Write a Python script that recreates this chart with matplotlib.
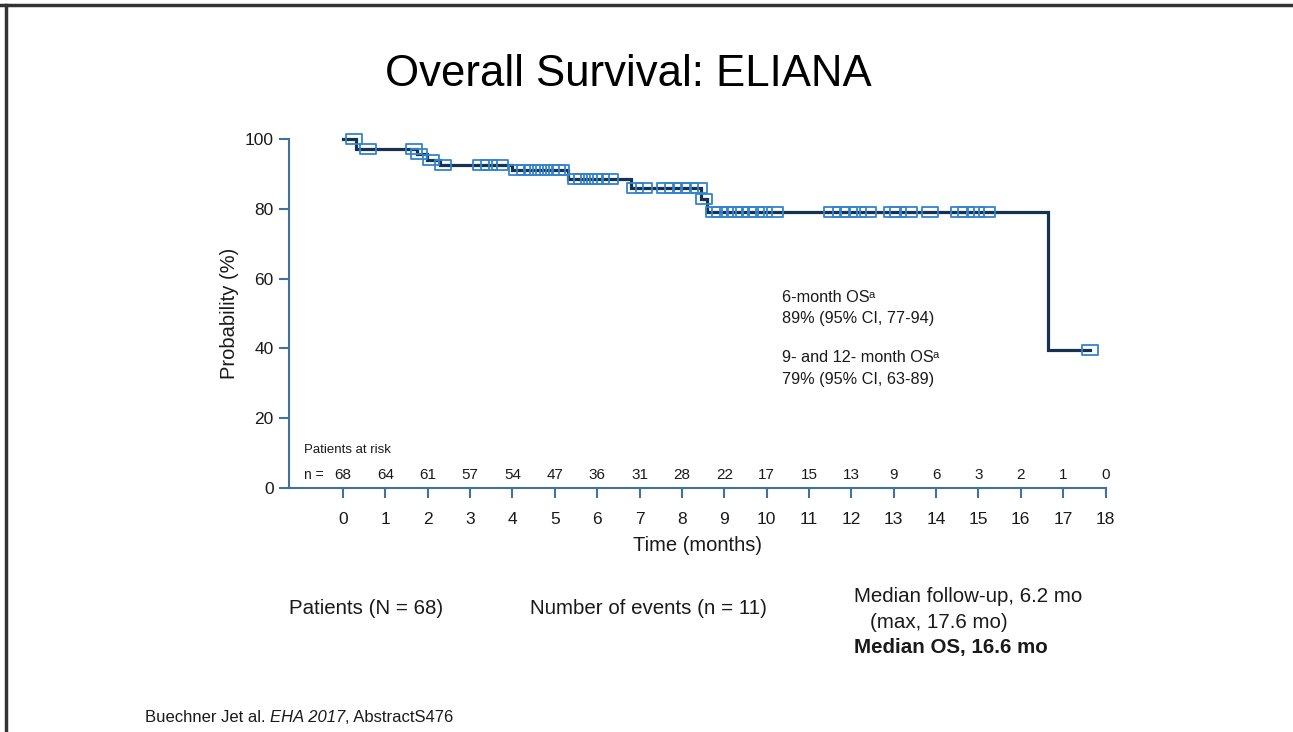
import numpy as np
import matplotlib
matplotlib.use("Agg")
import matplotlib.pyplot as plt
from matplotlib.path import Path
from matplotlib.lines import Line2D

plt.rcParams['font.family'] = ['Liberation Sans', 'DejaVu Sans']

# ---- data ----
event_times = [0.0, 0.3, 1.75, 1.98, 2.29, 4.0, 5.3, 6.8, 8.45, 8.6, 16.65]
survival_pct = [100.0, 97.1, 95.6, 94.1, 92.6, 91.0, 88.5, 86.0, 82.9, 79.2, 39.6]
max_followup = 17.63
censor_times = [0.26, 0.6, 1.68, 1.8, 2.08, 2.36, 3.25, 3.45, 3.7,
                4.1, 4.3, 4.45, 4.6, 4.75, 4.9, 5.05, 5.15,
                5.5, 5.65, 5.8, 5.95, 6.1, 6.3, 6.9, 7.1,
                7.6, 7.8, 8.0, 8.2, 8.4, 8.52,
                8.75, 8.9, 9.1, 9.25, 9.4, 9.6, 9.75, 9.95, 10.2,
                11.55, 11.75, 11.95, 12.15, 12.4, 12.95, 13.1, 13.35,
                13.85, 14.55, 14.7, 14.95, 15.2, 17.63]
risk_months = list(range(0, 19))
at_risk = [68, 64, 61, 57, 54, 47, 36, 31, 28, 22, 17, 15, 13, 9, 6, 3, 2, 1, 0]
y_ticks = [0, 20, 40, 60, 80, 100]

# ---- figure ----
fig = plt.figure(figsize=(12.93, 7.32), dpi=100)
W, H = 1293, 732
ax = fig.add_axes([289 / W, (H - 488) / H, (1105.5 - 289) / W, (488 - 139) / H])

spine_col = '#41729c'
curve_col = '#16324f'
box_col = '#3383cf'
txt_col = '#1a1a1a'

# KM step curve
st = np.array(event_times + [max_followup])
sv = np.array(survival_pct + [survival_pct[-1]])
ax.step(st, sv, where='post', color=curve_col, lw=2.3, solid_joinstyle='miter',
        zorder=3, clip_on=False)

# censor marks (open rectangles)
ct = np.array(censor_times)
idx = np.searchsorted(np.array(event_times), ct, side='right') - 1
cy = np.array(survival_pct)[idx]
rect = Path([(-1, -0.6), (1, -0.6), (1, 0.6), (-1, 0.6), (-1, -0.6)],
            [Path.MOVETO, Path.LINETO, Path.LINETO, Path.LINETO, Path.CLOSEPOLY])
ax.plot(ct, cy, ls='none', marker=rect, markersize=12, markerfacecolor='none',
        markeredgecolor=box_col, markeredgewidth=1.3, zorder=4, clip_on=False)

ax.set_xlim(-1.275, 18)
ax.set_ylim(0, 100)
for s in ['top', 'right']:
    ax.spines[s].set_visible(False)
for s in ['left', 'bottom']:
    ax.spines[s].set_color(spine_col)
    ax.spines[s].set_linewidth(1.5)

ax.set_xticks(risk_months)
ax.set_yticks(y_ticks)
ax.tick_params(axis='x', direction='out', length=7, width=1.5, color=spine_col,
               labelsize=12.5, labelcolor=txt_col, pad=10)
ax.tick_params(axis='y', direction='out', length=7, width=1.5, color=spine_col,
               labelsize=12.5, labelcolor=txt_col, pad=4)
ax.set_xlabel('Time (months)', fontsize=14.5, color=txt_col, labelpad=7)
ax.set_ylabel('Probability (%)', fontsize=14.5, color=txt_col, labelpad=4)

# patients at risk
ax.text(-0.93, 10.8, 'Patients at risk', fontsize=9.5, color=txt_col,
        ha='left', va='center')
ax.text(-0.93, 3.6, 'n =', fontsize=10, color=txt_col, ha='left', va='center')
for m, n in zip(risk_months, at_risk):
    ax.text(m, 3.6, str(n), fontsize=11, color=txt_col, ha='center', va='center')

# annotations
ann_x = 10.37
ax.text(ann_x, 54.7, '6-month OS', fontsize=11.7, color=txt_col, ha='left', va='center')
ax.text(ann_x, 37.5, '9- and 12- month OS', fontsize=11.7, color=txt_col,
        ha='left', va='center')
ax.text(ann_x, 48.6, '89% (95% CI, 77-94)', fontsize=11.7, color=txt_col,
        ha='left', va='center')
ax.text(ann_x, 31.0, '79% (95% CI, 63-89)', fontsize=11.7, color=txt_col,
        ha='left', va='center')

# title
fig.text(628 / W, 1 - 75 / H, 'Overall Survival: ELIANA', fontsize=31.5,
         color='black', ha='center', va='center')

# bottom texts
fs_b = 14.8
fig.text(289 / W, 1 - 608 / H, 'Patients (N = 68)', fontsize=fs_b, color=txt_col,
         ha='left', va='center')
fig.text(530 / W, 1 - 608 / H, 'Number of events (n = 11)', fontsize=fs_b,
         color=txt_col, ha='left', va='center')
fig.text(854 / W, 1 - 597 / H, 'Median follow-up, 6.2 mo', fontsize=fs_b,
         color=txt_col, ha='left', va='center')
fig.text(870 / W, 1 - 622 / H, '(max, 17.6 mo)', fontsize=fs_b, color=txt_col,
         ha='left', va='center')
fig.text(854 / W, 1 - 647 / H, 'Median OS, 16.6 mo', fontsize=fs_b,
         fontweight='bold', color=txt_col, ha='left', va='center')

# slide frame (top and left edges)
fig.add_artist(Line2D([0, 1], [1 - 4.5 / H, 1 - 4.5 / H], color='#333333', lw=2.5,
                      transform=fig.transFigure))
fig.add_artist(Line2D([5.5 / W, 5.5 / W], [0, 1 - 4.5 / H], color='#333333', lw=2.5,
                      transform=fig.transFigure))

# texts that follow others on the same line (superscripts, italic run)
fig.canvas.draw()
r = fig.canvas.get_renderer()
inv = fig.transFigure.inverted()


def after(t):
    bb = t.get_window_extent(r)
    return inv.transform((bb.x1, bb.y1))


for t in list(ax.texts):
    if t.get_text().endswith('OS'):
        x1, y1 = after(t)
        fig.text(x1 - 1.5 / W, y1 - 5 / H, 'a', fontsize=8, color=txt_col,
                 ha='left', va='center')

fs_c = 12
t1 = fig.text(145 / W, 1 - 717 / H, 'Buechner Jet al. ', fontsize=fs_c,
              color=txt_col, ha='left', va='center')
fig.canvas.draw()
x1, _ = after(t1)
t2 = fig.text(x1, 1 - 717 / H, 'EHA 2017', fontsize=fs_c, style='italic',
              color=txt_col, ha='left', va='center')
fig.canvas.draw()
x2, _ = after(t2)
fig.text(x2, 1 - 717 / H, ', AbstractS476', fontsize=fs_c, color=txt_col,
         ha='left', va='center')

fig.savefig('out.png', dpi=100)
